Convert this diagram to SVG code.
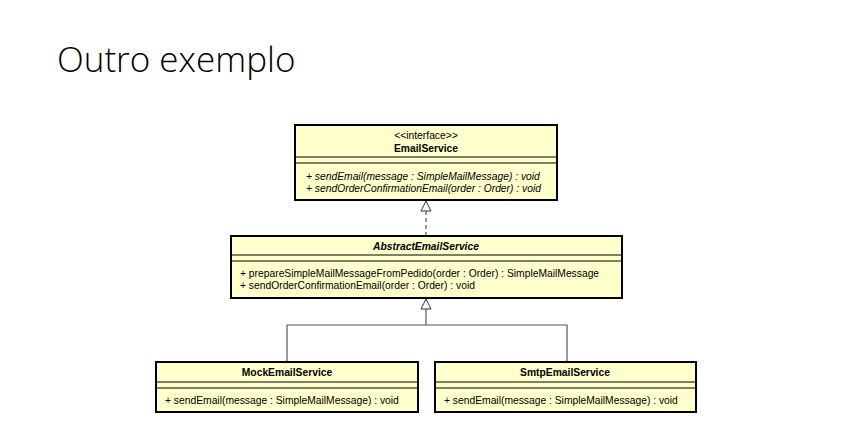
<svg xmlns="http://www.w3.org/2000/svg" width="854" height="443" viewBox="0 0 854 443">
<defs>
<style>
.box{fill:#FFFFCC;stroke:#000;stroke-width:2}
.div{stroke:#000;stroke-width:1}
.t{font-family:"Liberation Sans",Arial,sans-serif;font-size:10.3px;fill:#000}
.b{font-weight:bold}
.i{font-style:italic}
.c{text-anchor:middle}
.edge{fill:none;stroke:#555;stroke-width:1.2}
</style>
<marker id="tri" viewBox="0 0 12 12" refX="11" refY="6" markerWidth="12" markerHeight="12" markerUnits="userSpaceOnUse" orient="auto">
<path d="M1,1 L11,6 L1,11 Z" fill="#fff" stroke="#333" stroke-width="1"/>
</marker>
</defs>
<rect width="854" height="443" fill="#fff"/>
<text x="57" y="72" font-family="'Open Sans','Noto Sans',sans-serif" font-weight="300" font-size="35" fill="#000">Outro exemplo</text>

<g id="connectors">
<path class="edge" d="M426,236 L426,201" stroke-dasharray="4,3" marker-end="url(#tri)"/>
<path class="edge" d="M287,362 L287,325 L567,325 L567,362"/>
<path class="edge" d="M426,325 L426,299" marker-end="url(#tri)"/>
</g>

<g id="EmailService">
<rect class="box" x="295" y="125" width="262" height="75"/>
<line class="div" x1="295" y1="157" x2="557" y2="157"/>
<line class="div" x1="295" y1="163" x2="557" y2="163"/>
<text class="t c" x="426" y="139">&lt;&lt;interface&gt;&gt;</text>
<text class="t b c" x="426" y="152">EmailService</text>
<text class="t i" x="306" y="180">+ sendEmail(message : SimpleMailMessage) : void</text>
<text class="t i" x="306" y="192">+ sendOrderConfirmationEmail(order : Order) : void</text>
</g>

<g id="AbstractEmailService">
<rect class="box" x="231" y="236" width="391" height="62"/>
<line class="div" x1="231" y1="255" x2="622" y2="255"/>
<line class="div" x1="231" y1="261" x2="622" y2="261"/>
<text class="t b i c" x="426" y="250">AbstractEmailService</text>
<text class="t" x="240" y="277">+ prepareSimpleMailMessageFromPedido(order : Order) : SimpleMailMessage</text>
<text class="t" x="240" y="289">+ sendOrderConfirmationEmail(order : Order) : void</text>
</g>

<g id="MockEmailService">
<rect class="box" x="156" y="362" width="262" height="50"/>
<line class="div" x1="156" y1="382" x2="418" y2="382"/>
<line class="div" x1="156" y1="388" x2="418" y2="388"/>
<text class="t b c" x="287" y="376">MockEmailService</text>
<text class="t" x="165" y="404">+ sendEmail(message : SimpleMailMessage) : void</text>
</g>

<g id="SmtpEmailService">
<rect class="box" x="435" y="362" width="261" height="50"/>
<line class="div" x1="435" y1="382" x2="696" y2="382"/>
<line class="div" x1="435" y1="388" x2="696" y2="388"/>
<text class="t b c" x="565" y="376">SmtpEmailService</text>
<text class="t" x="444" y="404">+ sendEmail(message : SimpleMailMessage) : void</text>
</g>
</svg>
